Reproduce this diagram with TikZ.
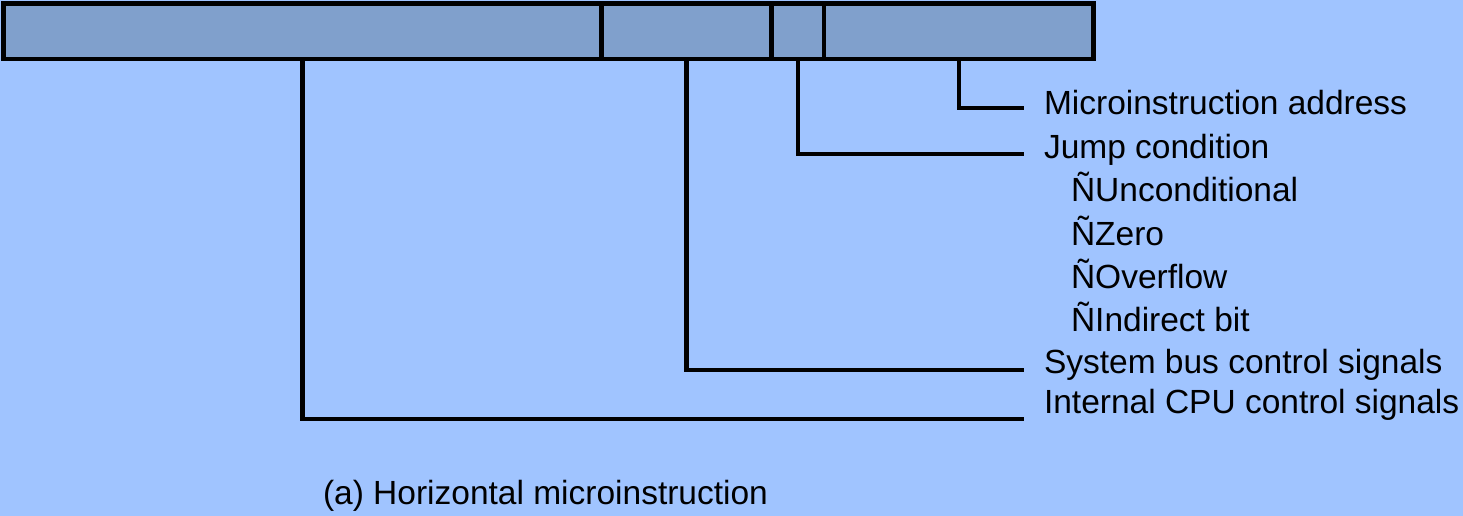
\documentclass[tikz,border=0pt]{standalone}
\usepackage{fontspec}
\setmainfont{Liberation Sans}
\definecolor{bg}{RGB}{160,196,255}
\definecolor{barfill}{RGB}{128,160,204}
\begin{document}
\begin{tikzpicture}[x=1pt,y=-1pt,
  field/.style={draw=black, fill=barfill, line width=4.5pt, minimum height=55.5pt, inner sep=0pt, outer sep=0pt, line join=miter},
  leader/.style={draw=black, line width=4.5pt, line join=miter},
  lbl/.style={anchor=base west, inner sep=0pt, outer sep=0pt, font=\fontsize{33.5}{40}\selectfont, text=black}]
\fill[bg] (0,0) rectangle (1463,516);
\useasboundingbox (0,0) rectangle (1463,516);
% instruction fields
\node[field, minimum width=598pt] (f1) at (302.5,31.25) {};
\node[field, minimum width=170pt] (f2) at (686.5,31.25) {};
\node[field, minimum width=52.5pt] (f3) at (797.75,31.25) {};
\node[field, minimum width=269.5pt] (f4) at (958.75,31.25) {};
% leader ends
\coordinate (eMicro) at (1024,108);
\coordinate (eJump) at (1024,154);
\coordinate (eSys) at (1024,370);
\coordinate (eInt) at (1024,419);
\draw[leader] (f4.south) |- (eMicro);
\draw[leader] (f3.south) |- (eJump);
\draw[leader] (f2.south) |- (eSys);
\draw[leader] (f1.south) |- (eInt);
% labels
\node[lbl] (tMicro) at (1044,115) {Microinstruction address};
\node[lbl] (tJump) at (1044,158) {Jump condition};
\node[lbl] (tUnc) at (1071,201) {ÑUnconditional};
\node[lbl] (tZero) at (1071,245) {ÑZero};
\node[lbl] (tOvf) at (1071,288) {ÑOverflow};
\node[lbl] (tInd) at (1071,331) {ÑIndirect bit};
\node[lbl] (tSys) at (1044,373) {System bus control signals};
\node[lbl] (tInt) at (1044,413) {Internal CPU control signals};
\node[lbl] (cap) at (323,504) {(a) Horizontal microinstruction};
\end{tikzpicture}
\end{document}
